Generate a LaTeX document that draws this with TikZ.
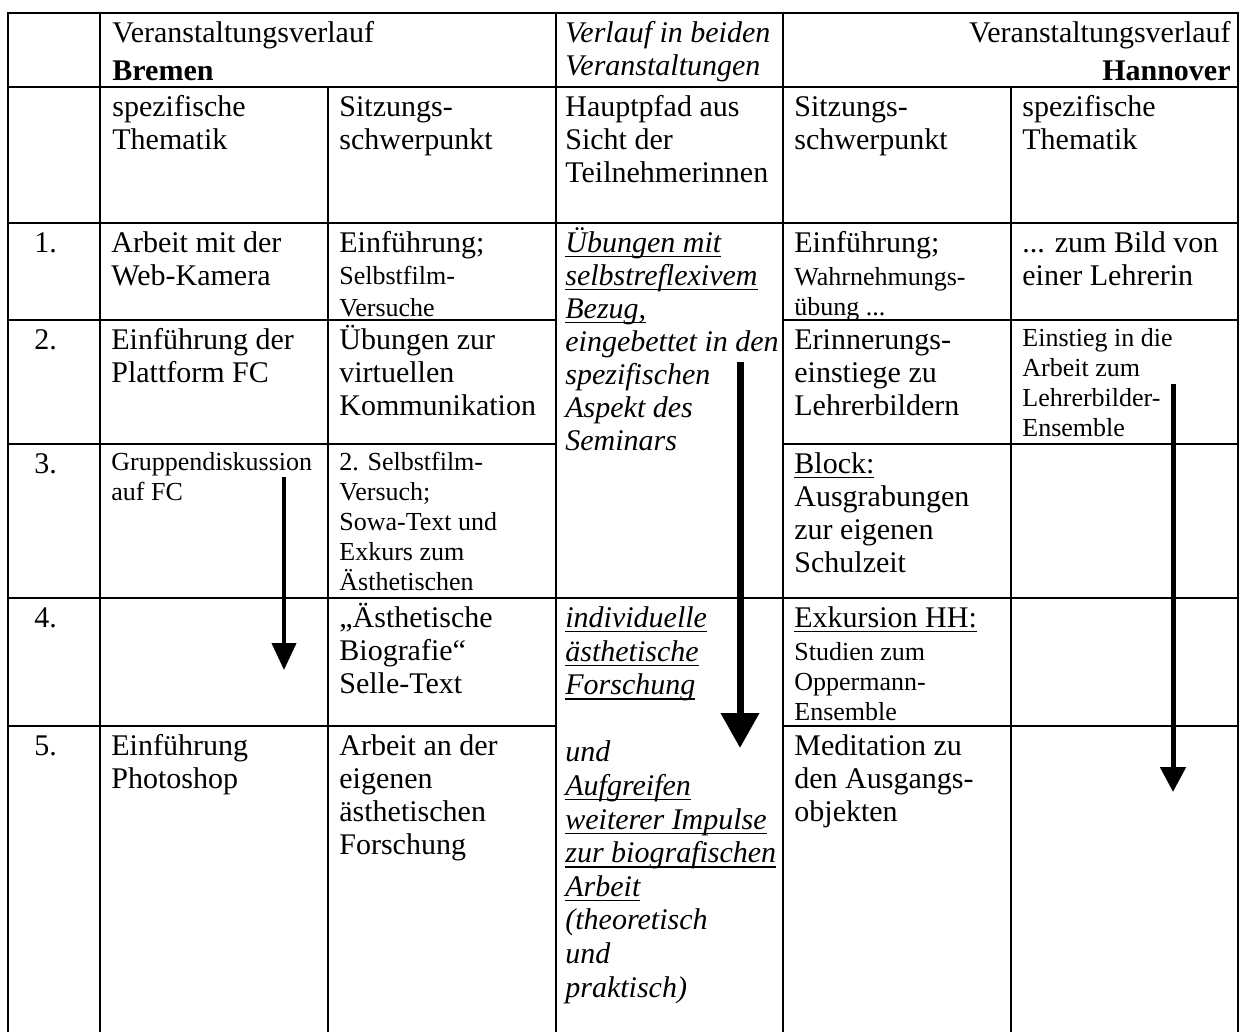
\documentclass[tikz,border=0pt]{standalone}
\usepackage{fontspec}
\setmainfont{Liberation Serif}
\usetikzlibrary{arrows.meta}

\newcommand{\bigfont}{\fontsize{15pt}{16.5pt}\selectfont}
\newcommand{\smallfont}{\fontsize{13pt}{15pt}\selectfont}
\newcommand{\topstrut}{\rule{0pt}{14.5pt}}
\newcommand{\smallstrut}{\rule{0pt}{13pt}}
\newsavebox{\ulbox}
\newcommand{\uln}[1]{\sbox{\ulbox}{#1}\rlap{\rule[-2.5pt]{\wd\ulbox}{0.65pt}}\usebox{\ulbox}}

\begin{document}
\begin{tikzpicture}[x=0.5pt,y=-0.5pt,
  cellnode/.style={anchor=north west, inner sep=0pt, align=left, font=\bigfont},
  smallnode/.style={cellnode, font=\smallfont},
  pathnode/.style={cellnode, font=\bigfont\itshape},
  gridline/.style={line width=1pt, line cap=rect},
  flowB/.style={-{Triangle[width=12pt,length=13.5pt]}, line width=2pt},
  flowM/.style={-{Triangle[width=18.5pt,length=17.5pt]}, line width=3.5pt},
  flowH/.style={-{Triangle[width=12.5pt,length=12.5pt]}, line width=2.5pt}]

\useasboundingbox (0,0) rectangle (1241,1032);

\foreach \y in {13,87,223,598}
  \draw[gridline] (8,\y) -- (1238,\y);
\foreach \y in {320,444,726} {
  \draw[gridline] (8,\y) -- (556,\y);
  \draw[gridline] (783,\y) -- (1238,\y);
}
\foreach \x in {8,100,556,783,1238}
  \draw[gridline] (\x,13) -- (\x,1040);
\foreach \x in {328,1011}
  \draw[gridline] (\x,87) -- (\x,1040);

\node[cellnode] (hdB) at (112,13) {\topstrut Veranstaltungsverlauf\\[2.5pt] \textbf{Bremen}};
\node[pathnode] (hdM) at (565,13) {\topstrut Verlauf in beiden\\Veranstaltungen};
\node[cellnode, anchor=north east, align=right] (hdH) at (1231,13) {\topstrut Veranstaltungsverlauf\\[2.5pt] \textbf{Hannover}};

\node[cellnode] (thB) at (112,87) {\topstrut spezifische\\Thematik};
\node[cellnode] (swB) at (339,87) {\topstrut Sitzungs-\\schwerpunkt};
\node[cellnode] (hp) at (565,87) {\topstrut Hauptpfad aus\\Sicht der\\Teilnehmerinnen};
\node[cellnode] (swH) at (794,87) {\topstrut Sitzungs-\\schwerpunkt};
\node[cellnode] (thH) at (1022,87) {\topstrut spezifische\\Thematik};

\node[cellnode] (n1) at (34,223) {\topstrut 1.};
\node[cellnode] (n2) at (34,320) {\topstrut 2.};
\node[cellnode] (n3) at (34,444) {\topstrut 3.};
\node[cellnode] (n4) at (34,598) {\topstrut 4.};
\node[cellnode] (n5) at (34,726) {\topstrut 5.};

\node[cellnode] (b1) at (111,223) {\topstrut Arbeit mit der\\Web-Kamera};
\node[cellnode] (b2) at (111,320) {\topstrut Einführung der\\Plattform FC};
\node[smallnode] (b3) at (111,444) {\smallstrut Gruppendiskussion\\auf FC};
\node[cellnode] (b5) at (111,726) {\topstrut Einführung\\Photoshop};

\node[smallnode] (s1) at (339,223) {\bigfont\topstrut Einführung;\\[1pt] Selbstfilm-\\[1pt] Versuche};
\node[cellnode] (s2) at (339,320) {\topstrut Übungen zur\\virtuellen\\Kommunikation};
\node[smallnode] (s3) at (339,444) {\smallstrut 2. Selbstfilm-\\Versuch;\\Sowa-Text und\\Exkurs zum\\Ästhetischen};
\node[cellnode] (s4) at (339,598) {\topstrut „Ästhetische\\Biografie“\\Selle-Text};
\node[cellnode] (s5) at (339,726) {\topstrut Arbeit an der\\eigenen\\ästhetischen\\Forschung};

\node[pathnode] (m1) at (565,223) {\topstrut\uln{Übungen mit}\\\uln{selbstreflexivem}\\\uln{Bezug,}\\eingebettet in den\\spezifischen\\Aspekt des\\Seminars};
\node[pathnode, font=\fontsize{15pt}{16.8pt}\selectfont\itshape] (m4) at (565,598) {\topstrut\uln{individuelle}\\\uln{ästhetische}\\\uln{Forschung}\\ \\ und\\\uln{Aufgreifen}\\\uln{weiterer Impulse}\\\uln{zur biografischen}\\\uln{Arbeit}\\(theoretisch\\ und\\praktisch)};

\node[smallnode] (h1) at (794,223) {\bigfont\topstrut Einführung;\\[1.5pt] Wahrnehmungs-\\übung ...};
\node[cellnode] (h2) at (794,320) {\topstrut Erinnerungs-\\einstiege zu\\Lehrerbildern};
\node[cellnode] (h3) at (794,444) {\topstrut\uln{Block:}\\Ausgrabungen\\zur eigenen\\Schulzeit};
\node[smallnode] (h4) at (794,598) {\bigfont\topstrut\uln{Exkursion HH:}\\[1.5pt] Studien zum\\Oppermann-\\Ensemble};
\node[cellnode] (h5) at (794,726) {\topstrut Meditation zu\\den Ausgangs-\\objekten};

\node[cellnode] (t1) at (1022,223) {\topstrut ... zum Bild von\\einer Lehrerin};
\node[smallnode] (t2) at (1022,320) {\smallstrut Einstieg in die\\Arbeit zum\\Lehrerbilder-\\Ensemble};

\coordinate (aB1) at (284,477);
\coordinate (aB2) at (284,670);
\coordinate (aM1) at (740,362);
\coordinate (aM2) at (740,748);
\coordinate (aH1) at (1173,384);
\coordinate (aH2) at (1173,792);

\draw[flowB] (aB1) -- (aB2);
\draw[flowM] (aM1) -- (aM2);
\draw[flowH] (aH1) -- (aH2);

\end{tikzpicture}
\end{document}
